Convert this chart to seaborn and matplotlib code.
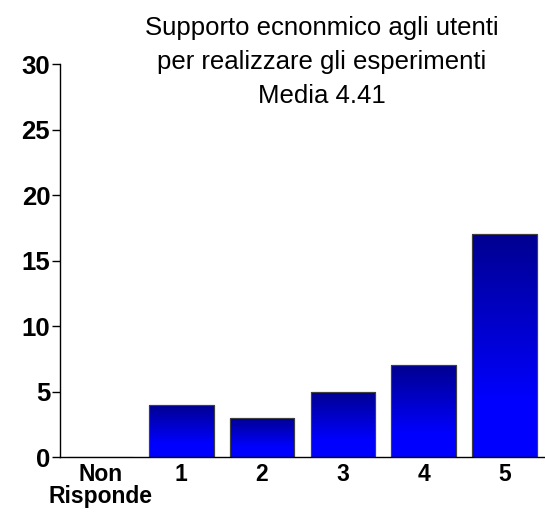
import numpy as np
import pandas as pd
import seaborn as sns
import matplotlib.pyplot as plt
from matplotlib.colors import LinearSegmentedColormap

# data
categories = ["Non\nRisponde", "1", "2", "3", "4", "5"]
counts = [0, 4, 3, 5, 7, 17]
title_lines = ["Supporto ecnonmico agli utenti",
               "per realizzare gli esperimenti",
               "Media 4.41"]

df = pd.DataFrame({"risposta": categories, "n": counts})

sns.set_style("white")
plt.rcParams['font.family'] = ['Liberation Sans', 'DejaVu Sans']
plt.rcParams['text.color'] = 'black'
plt.rcParams['xtick.color'] = 'black'
plt.rcParams['ytick.color'] = 'black'

fig = plt.figure(figsize=(5.45, 5.12), dpi=100)
ax = fig.add_axes([0.110, 0.107, 0.89, 0.768])

sns.barplot(data=df, x="risposta", y="n", color="#0000ff", width=0.8,
            edgecolor="#404040", linewidth=0.8, saturation=1, ax=ax)

# vertical gradient inside each bar: dark navy at top, bright blue at bottom
cmap = LinearSegmentedColormap.from_list(
    "bluegrad", [(0.0, "#0000ff"), (0.25, "#0000ff"), (1.0, "#000090")])
grad = np.linspace(0, 1, 256).reshape(-1, 1)
for p in ax.patches:
    h = p.get_height()
    if h <= 0:
        continue
    x0 = p.get_x()
    w = p.get_width()
    im = ax.imshow(grad, cmap=cmap, aspect="auto", origin="lower",
                   extent=[x0, x0 + w, 0, h], zorder=p.get_zorder() + 0.1)
    im.set_clip_path(p)
    ax.add_patch(plt.Rectangle((x0, 0), w, h, fill=False,
                               edgecolor="#404040", linewidth=0.8,
                               zorder=p.get_zorder() + 0.2))

ax.set_xlim(-0.5, len(categories) - 0.5)
ax.set_ylim(0, 30)
ax.set_yticks(range(0, 31, 5))
ax.set_xlabel("")
ax.set_ylabel("")

for s in ["top", "right"]:
    ax.spines[s].set_visible(False)
for s in ["left", "bottom"]:
    ax.spines[s].set_color("black")
    ax.spines[s].set_linewidth(1.0)

ax.tick_params(axis="y", which="both", left=True, length=6, width=1,
               color="black", labelsize=18.5, pad=1)
ax.tick_params(axis="x", bottom=False, labelsize=16.5, pad=1)
for lab in ax.get_yticklabels() + ax.get_xticklabels():
    lab.set_fontweight("bold")
for lab in ax.get_xticklabels():
    lab.set_linespacing(0.9)

tx = 322 / 545
fig.text(tx, 1 - 28 / 512, title_lines[0], ha="center", va="center", fontsize=18.5)
fig.text(tx, 1 - 62 / 512, title_lines[1], ha="center", va="center", fontsize=18.5)
fig.text(tx, 1 - 96 / 512, title_lines[2], ha="center", va="center", fontsize=18.5)

fig.savefig("out.png", dpi=100)
